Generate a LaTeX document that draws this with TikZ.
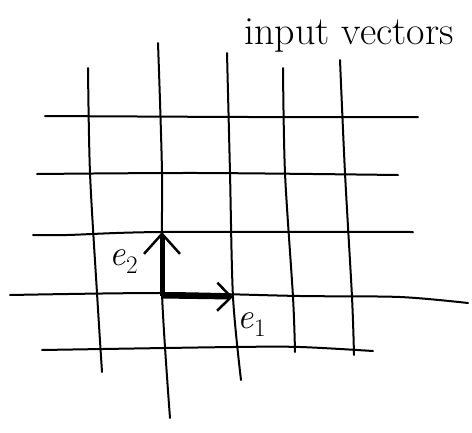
\documentclass[tikz,border=0pt]{standalone}
\usepackage{fontspec}
\usetikzlibrary{arrows.meta}
\begin{document}
\begin{tikzpicture}[x=1pt,y=-1pt,
  gridline/.style={line width=2pt, line cap=round},
  basisvec/.style={line width=5pt},
  lbl/.style={inner sep=0pt, font=\fontsize{36}{40}\selectfont},
  titlelbl/.style={inner sep=0pt, font=\fontsize{40}{44}\selectfont}]
\useasboundingbox (0,0) rectangle (472,432);
% horizontal lines
\draw[gridline] plot[smooth] coordinates {(45,116) (250,117) (418,117)};
\draw[gridline] plot[smooth] coordinates {(37,174) (200,173) (398,175)};
\draw[gridline] plot[smooth] coordinates {(33,235) (67,235) (162,232) (413,232)};
\draw[gridline] plot[smooth] coordinates {(10,295) (163,293) (300,296) (400,297) (468,303)};
\draw[gridline] plot[smooth] coordinates {(42,350) (233,347) (300,347) (373,351)};
% vertical lines
\draw[gridline] plot[smooth] coordinates {(88,68) (90,173) (97,293) (102,372)};
\draw[gridline] plot[smooth] coordinates {(158,43) (162,173) (162,293) (170,418)};
\draw[gridline] plot[smooth] coordinates {(227,53) (230,173) (233,297) (241,380)};
\draw[gridline] plot[smooth] coordinates {(283,68) (285,173) (293,297) (295,352)};
\draw[gridline] plot[smooth] coordinates {(340,60) (345,173) (352,297) (354,355)};
% basis vectors
\coordinate (O) at (162,296);
\coordinate (T2) at (162,232);
\coordinate (T1) at (233,297);
\draw[basisvec, -{Straight Barb[length=20pt,width=36pt,line width=2.5pt]}] (O) -- (T2);
\draw[basisvec, -{Straight Barb[length=14pt,width=28pt,line width=2.5pt]}] (O) -- (T1);
% labels
\node[lbl] (e2) at (124,262) {\itshape e\textsubscript{\upshape 2}};
\node[lbl] (e1) at (252,325) {\itshape e\textsubscript{\upshape 1}};
\node[titlelbl, anchor=base] (title) at (349,44) {input vectors};
\end{tikzpicture}
\end{document}
